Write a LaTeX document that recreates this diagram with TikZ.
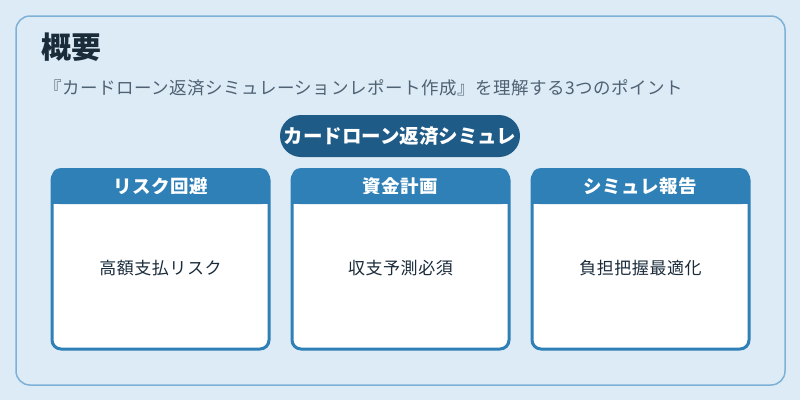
\documentclass[tikz,border=0pt]{standalone}
\usepackage{fontspec}
\setmainfont{Noto Sans CJK JP}
\newfontfamily\spacedfont[LetterSpace=3]{Noto Sans CJK JP}
\usetikzlibrary{positioning, calc}
\definecolor{bgblue}{HTML}{DDEBF6}
\definecolor{frameblue}{HTML}{7DB1D6}
\definecolor{pillblue}{HTML}{1F5B87}
\definecolor{headblue}{HTML}{2E80B6}
\definecolor{titletext}{HTML}{1A2B3A}
\definecolor{subtext}{HTML}{4F6273}
\tikzset{
    pill/.style={rectangle, rounded corners=21pt, fill=pillblue, text=white, minimum width=240pt, minimum height=42pt, inner sep=0pt, font=\fontsize{19.5}{22}\selectfont\bfseries},
    card/.style={rectangle, draw=headblue, line width=3pt, rounded corners=9pt, fill=white, minimum width=217pt, minimum height=178pt, inner sep=0pt},
    card_head/.style={rectangle, rounded corners=8pt, fill=headblue, text=white, minimum width=217pt, minimum height=36pt, inner sep=0pt, font=\spacedfont\fontsize{18.5}{21}\selectfont\bfseries},
    card_text/.style={text=titletext, font=\spacedfont\fontsize{17}{20}\selectfont}
}
\begin{document}
\begin{tikzpicture}[x=1pt, y=-1pt]
    \useasboundingbox (0,0) rectangle (800,400);
    \fill[bgblue] (0,0) rectangle (800,400);
    \draw[frameblue, line width=1.5pt, rounded corners=14pt] (16,16) rectangle (785,385);

    % Title
    \node (title) [anchor=west, inner sep=0pt, text=titletext, font=\fontsize{30}{34}\selectfont\bfseries] at (41,47) {概要};
    \node (sub) [anchor=west, inner sep=0pt, text=subtext, font=\spacedfont\fontsize{17.5}{20}\selectfont] at (44,88) {『カードローン返済シミュレーションレポート作成』を理解する3つのポイント};

    % Pill
    \node (pill) [pill] at (400,136) {カードローン返済シミュレ};

    % Cards
    \node (card1) [card] at (160.5,260) {};
    \node (card2) [card] at (400.5,260) {};
    \node (card3) [card] at (640.5,260) {};

    \node (head1) [card_head, anchor=north] at ([yshift=1.5pt]card1.north) {リスク回避};
    \node (head2) [card_head, anchor=north] at ([yshift=1.5pt]card2.north) {資金計画};
    \node (head3) [card_head, anchor=north] at ([yshift=1.5pt]card3.north) {シミュレ報告};
    \foreach \h in {head1, head2, head3}
        \fill[headblue] (\h.south west) rectangle ([yshift=10pt]\h.south east);

    \node (txt1) [card_text] at (160.5,268) {高額支払リスク};
    \node (txt2) [card_text] at (400.5,268) {収支予測必須};
    \node (txt3) [card_text] at (640.5,268) {負担把握最適化};
\end{tikzpicture}
\end{document}
